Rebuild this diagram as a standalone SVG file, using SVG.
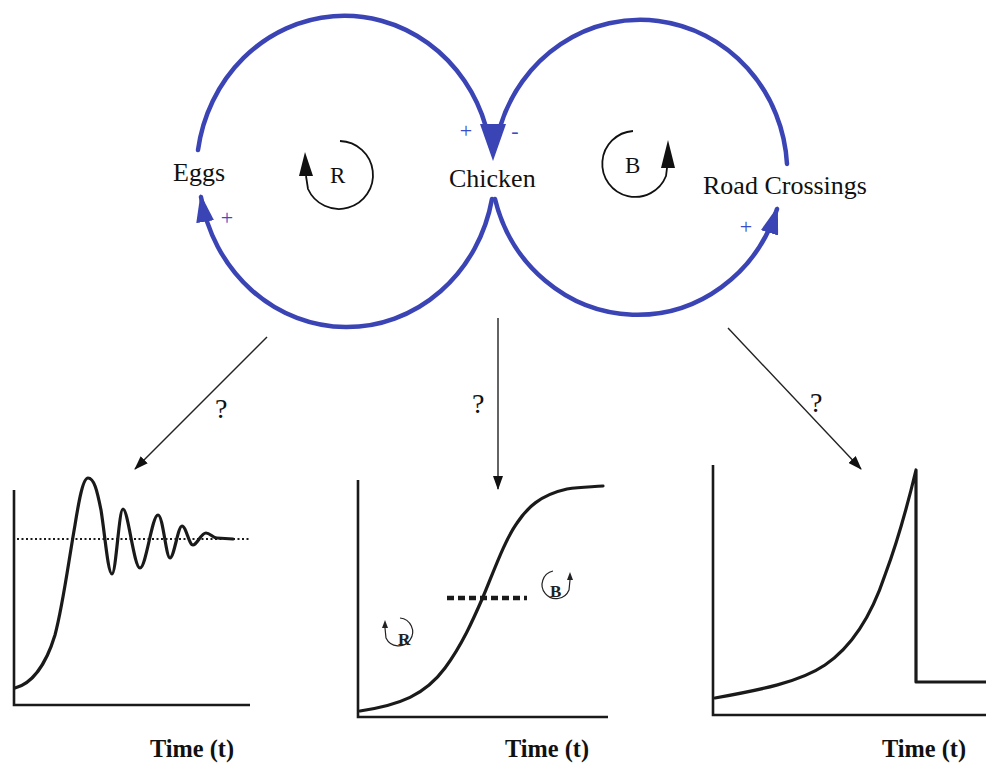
<svg xmlns="http://www.w3.org/2000/svg" width="986" height="766" viewBox="0 0 986 766">
<style>
.loop{fill:none;stroke:#3a44b4;stroke-width:4.5;stroke-linecap:round}
.sign{font-family:"Liberation Serif",serif;font-size:22px;fill:#3b4cc8}
.lbl{font-family:"Liberation Serif",serif;font-size:26px;fill:#111}
.sym{fill:none;stroke:#111;stroke-width:1.8}
.symtxt{font-family:"Liberation Serif",serif;font-size:23px;fill:#111}
.q{font-family:"Liberation Serif",serif;font-size:28px;fill:#111}
.ptr{fill:none;stroke:#222;stroke-width:1.4}
.axis{fill:none;stroke:#1a1a1a;stroke-width:2.6}
.curve{fill:none;stroke:#1a1a1a;stroke-width:3.2;stroke-linejoin:round;stroke-linecap:round}
.time{font-family:"Liberation Serif",serif;font-size:26px;font-weight:bold;fill:#111}
.mini{fill:none;stroke:#222;stroke-width:1.2}
.minitxt{font-family:"Liberation Serif",serif;font-size:17px;font-weight:bold;fill:#222}
</style>
<defs>
<marker id="ab" viewBox="0 0 28 18" markerWidth="28" markerHeight="18" refX="25" refY="9" markerUnits="userSpaceOnUse" orient="auto">
<path d="M0,0 L28,9 L0,18 Z" fill="#3a44b4"/>
</marker>
<marker id="ak" viewBox="0 0 14 10" markerWidth="14" markerHeight="10" refX="13" refY="5" markerUnits="userSpaceOnUse" orient="auto">
<path d="M0,0 L14,5 L0,10 Z" fill="#111"/>
</marker>
</defs>

<g id="connectors">
<path class="loop" d="M198,150 A148,157 0 0,1 486,127"/>
<path class="loop" d="M492,199 A148,158 0 0,1 201,197" marker-end="url(#ab)"/>
<path class="loop" d="M787,164 A147,153 0 0,0 500,127"/>
<path class="loop" d="M495,199 A147,154 0 0,0 777,209" marker-end="url(#ab)"/>
<polygon points="480,124 506,124 493,161" fill="#3a44b4"/>
<line class="ptr" x1="267" y1="337" x2="135" y2="469" marker-end="url(#ak)"/>
<line class="ptr" x1="498" y1="318" x2="498" y2="489" marker-end="url(#ak)"/>
<line class="ptr" x1="728" y1="328" x2="861" y2="469" marker-end="url(#ak)"/>
</g>

<g id="signs">
<text class="sign" x="466" y="138" text-anchor="middle">+</text>
<text class="sign" x="515" y="138" text-anchor="middle">-</text>
<text class="sign" x="227" y="225" text-anchor="middle">+</text>
<text class="sign" x="746" y="234" text-anchor="middle">+</text>
</g>

<g id="eggs"><text class="lbl" x="173" y="181">Eggs</text></g>
<g id="chicken"><text class="lbl" x="449" y="187">Chicken</text></g>
<g id="road-crossings"><text class="lbl" x="703" y="194">Road Crossings</text></g>

<g id="loop-R">
<path class="sym" d="M340,141 A34,34 0 1,1 308,189 L306,176"/>
<polygon points="299,176 313,176 305,152" fill="#111"/>
<text class="symtxt" x="330" y="183">R</text>
</g>
<g id="loop-B">
<path class="sym" d="M633,131 A33,33 0 1,0 666,176 L667,168"/>
<polygon points="661,168 675,168 668,140" fill="#111"/>
<text class="symtxt" x="625" y="173">B</text>
</g>

<g id="questions">
<text class="q" x="215" y="418">?</text>
<text class="q" x="472" y="413">?</text>
<text class="q" x="810" y="412">?</text>
</g>

<g id="graph-oscillation">
<path class="axis" d="M14,490 L14,705 L250,705"/>
<line x1="17" y1="539" x2="250" y2="539" stroke="#1a1a1a" stroke-width="2" stroke-dasharray="2 2.5"/>
<path class="curve" d="M15,688 C30,684 45,668 55,635 C63,605 68,565 75,525 C79,500 83,478 88,478 C94,478 97,490 101,510 C105,535 108,574 112,574 C116,574 119,509 123,509 C128,509 134,568 140,568 C146,568 152,515 158,515 C163,515 166,558 170,558 C174,558 178,526 182,526 C186,526 189,545 193,545 C197,545 201,533 206,533 C210,533 213,538 217,538 L233,539"/>
<text class="time" x="150" y="757" textLength="84" lengthAdjust="spacingAndGlyphs">Time (t)</text>
</g>

<g id="graph-s-curve">
<path class="axis" d="M358,480 L358,717 L608,717"/>
<path class="curve" d="M360,711 C400,705 425,695 445,668 C462,645 473,620 483,597 C495,568 505,540 517,523 C527,508 540,495 567,489 C580,487 590,487 603,486"/>
<line x1="447" y1="598" x2="527" y2="598" stroke="#1a1a1a" stroke-width="4.5" stroke-dasharray="7 4"/>
<path class="mini" d="M400,618 A14,14 0 1,1 386,638 L385,628"/>
<polygon points="382,628 388,628 385,620" fill="#222"/>
<text class="minitxt" x="398" y="645">R</text>
<path class="mini" d="M553,571 A14,14 0 1,0 569,590 L570,580"/>
<polygon points="567,580 573,580 570,572" fill="#222"/>
<text class="minitxt" x="550" y="597">B</text>
<text class="time" x="505" y="757" textLength="84" lengthAdjust="spacingAndGlyphs">Time (t)</text>
</g>

<g id="graph-collapse">
<path class="axis" d="M713,465 L713,715 L986,715"/>
<path class="curve" d="M715,698 C760,690 800,682 825,665 C850,648 870,620 885,575 C900,535 910,495 916,470 L916,682 L986,682"/>
<text class="time" x="882" y="757" textLength="84" lengthAdjust="spacingAndGlyphs">Time (t)</text>
</g>
</svg>
